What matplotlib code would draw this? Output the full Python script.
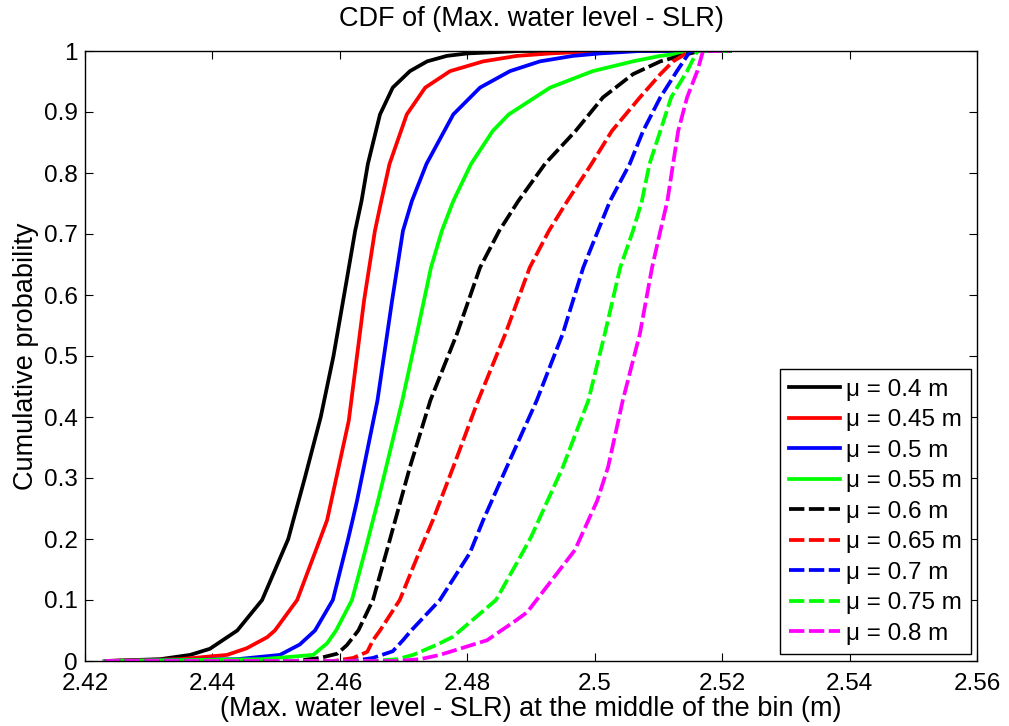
import matplotlib
matplotlib.use("Agg")
import matplotlib.pyplot as plt

plt.rcParams['font.family'] = ['Liberation Sans', 'DejaVu Sans']

# Empirical CDF samples: water level (m) and cumulative probability for each mean SLR
labels = ["\u03bc = 0.4 m", "\u03bc = 0.45 m", "\u03bc = 0.5 m", "\u03bc = 0.55 m",
          "\u03bc = 0.6 m", "\u03bc = 0.65 m", "\u03bc = 0.7 m", "\u03bc = 0.75 m",
          "\u03bc = 0.8 m"]
colors = ["black", "red", "blue", "#00ff00", "black", "red", "blue", "#00ff00", "magenta"]
dashed = [False, False, False, False, True, True, True, True, True]

x_04 = [2.4231, 2.4318, 2.4365, 2.4396, 2.4439, 2.4478, 2.4519, 2.4527, 2.4545, 2.4570,
        2.4590, 2.4610, 2.4624, 2.4634, 2.4644, 2.4663, 2.4683, 2.4710, 2.4737, 2.4768,
        2.4800, 2.4883, 2.5212]
p_04 = [0, 0.003, 0.01, 0.02, 0.05, 0.1, 0.2, 0.231, 0.3, 0.4,
        0.5, 0.62, 0.705, 0.754, 0.815, 0.896, 0.94, 0.967, 0.983, 0.992,
        0.996, 1, 1]

x_045 = [2.4231, 2.4349, 2.4423, 2.4454, 2.4486, 2.4498, 2.4533, 2.4569, 2.4580, 2.4614,
         2.4638, 2.4655, 2.4665, 2.4678, 2.4705, 2.4734, 2.4773, 2.4825, 2.4878, 2.4930,
         2.5008, 2.5212]
p_045 = [0, 0.003, 0.01, 0.021, 0.039, 0.05, 0.1, 0.2, 0.231, 0.394,
         0.591, 0.705, 0.754, 0.815, 0.896, 0.94, 0.967, 0.983, 0.992, 0.996,
         1, 1]

x_05 = [2.4231, 2.4439, 2.4506, 2.4537, 2.4561, 2.4589, 2.4613, 2.4620, 2.4627, 2.4659,
        2.4682, 2.4699, 2.4713, 2.4736, 2.4778, 2.4820, 2.4867, 2.4914, 2.4966, 2.5008,
        2.5071, 2.5212]
p_05 = [0, 0.003, 0.01, 0.027, 0.05, 0.1, 0.2, 0.231, 0.263, 0.427,
        0.591, 0.705, 0.754, 0.815, 0.896, 0.94, 0.967, 0.983, 0.992, 0.996,
        1, 1]

x_055 = [2.4231, 2.4479, 2.4558, 2.4580, 2.4594, 2.4619, 2.4640, 2.4652, 2.4660, 2.4698,
         2.4721, 2.4743, 2.4760, 2.4778, 2.4806, 2.4840, 2.4865, 2.4930, 2.4997, 2.5060,
         2.5103, 2.5165, 2.5212]
p_055 = [0, 0.003, 0.01, 0.029, 0.05, 0.1, 0.182, 0.231, 0.263, 0.427,
         0.537, 0.645, 0.705, 0.754, 0.815, 0.869, 0.896, 0.94, 0.967, 0.983,
         0.992, 1, 1]

x_06 = [2.4231, 2.4530, 2.4569, 2.4596, 2.4611, 2.4629, 2.4652, 2.4674, 2.4687, 2.4710,
        2.4742, 2.4784, 2.4820, 2.4850, 2.4880, 2.4922, 2.4970, 2.5013, 2.5060, 2.5103,
        2.5134, 2.5165, 2.5212]
p_06 = [0, 0, 0.005, 0.012, 0.026, 0.05, 0.1, 0.182, 0.231, 0.318,
        0.427, 0.537, 0.645, 0.705, 0.754, 0.815, 0.869, 0.924, 0.962, 0.983,
        0.992, 1, 1]

x_065 = [2.4231, 2.4590, 2.4621, 2.4643, 2.4652, 2.4663, 2.4694, 2.4726, 2.4746, 2.4778,
         2.4817, 2.4860, 2.4898, 2.4928, 2.4957, 2.4995, 2.5027, 2.5071, 2.5103, 2.5123,
         2.5150, 2.5212]
p_065 = [0, 0, 0.005, 0.015, 0.034, 0.05, 0.1, 0.182, 0.231, 0.318,
         0.427, 0.537, 0.645, 0.705, 0.754, 0.815, 0.869, 0.924, 0.962, 0.983,
         1, 1]

x_07 = [2.4231, 2.4620, 2.4652, 2.4683, 2.4699, 2.4712, 2.4757, 2.4804, 2.4825, 2.4862,
        2.4909, 2.4950, 2.4982, 2.5005, 2.5024, 2.5055, 2.5076, 2.5103, 2.5129, 2.5150,
        2.5212]
p_07 = [0, 0, 0.005, 0.016, 0.034, 0.05, 0.1, 0.177, 0.231, 0.318,
        0.427, 0.537, 0.645, 0.705, 0.754, 0.815, 0.869, 0.924, 0.967, 1,
        1]

x_075 = [2.4231, 2.4650, 2.4690, 2.4715, 2.4753, 2.4778, 2.4789, 2.4845, 2.4880, 2.4900,
         2.4950, 2.4990, 2.5016, 2.5040, 2.5060, 2.5074, 2.5086, 2.5103, 2.5120, 2.5145,
         2.5161, 2.5212]
p_075 = [0, 0, 0.003, 0.01, 0.027, 0.04, 0.05, 0.1, 0.165, 0.203,
         0.318, 0.427, 0.537, 0.645, 0.705, 0.754, 0.815, 0.869, 0.924, 0.967,
         1, 1]

x_08 = [2.4231, 2.4690, 2.4726, 2.4757, 2.4831, 2.4877, 2.4894, 2.4969, 2.5004, 2.5021,
        2.5044, 2.5071, 2.5090, 2.5103, 2.5114, 2.5123, 2.5131, 2.5145, 2.5161, 2.5170,
        2.5212]
p_08 = [0, 0, 0.003, 0.01, 0.034, 0.067, 0.08, 0.182, 0.263, 0.318,
        0.427, 0.537, 0.645, 0.705, 0.754, 0.815, 0.869, 0.924, 0.967, 1,
        1]

xs = [x_04, x_045, x_05, x_055, x_06, x_065, x_07, x_075, x_08]
ps = [p_04, p_045, p_05, p_055, p_06, p_065, p_07, p_075, p_08]

x_ticks = [2.42, 2.44, 2.46, 2.48, 2.50, 2.52, 2.54, 2.56]
x_tick_labels = ["2.42", "2.44", "2.46", "2.48", "2.5", "2.52", "2.54", "2.56"]
y_ticks = [0, 0.1, 0.2, 0.3, 0.4, 0.5, 0.6, 0.7, 0.8, 0.9, 1.0]
y_tick_labels = ["0", "0.1", "0.2", "0.3", "0.4", "0.5", "0.6", "0.7", "0.8", "0.9", "1"]

W, H = 1009, 726
fig = plt.figure(figsize=(W / 100, H / 100), dpi=100)
ax = fig.add_axes([85 / W, 1 - 661 / H, (977 - 85) / W, (661 - 51) / H])

lw = 2.7
for x, p, c, d, lab in zip(xs, ps, colors, dashed, labels):
    ls = (0, (4.1, 1.2)) if d else "-"
    ax.plot(x, p, color=c, linewidth=lw, linestyle=ls, label=lab)

ax.set_xlim(2.42, 2.56)
ax.set_ylim(0, 1)
ax.set_xticks(x_ticks)
ax.set_xticklabels(x_tick_labels)
ax.set_yticks(y_ticks)
ax.set_yticklabels(y_tick_labels)
ax.tick_params(direction="in", length=5.5, width=0.8, top=True, right=True,
               labelsize=17.5)
ax.tick_params(axis="x", pad=8.5)
ax.tick_params(axis="y", pad=5)
for s in ax.spines.values():
    s.set_linewidth(1.0)

ax.set_title("CDF of (Max. water level - SLR)", fontsize=19.5, pad=18)
ax.set_xlabel("(Max. water level - SLR) at the middle of the bin (m)", fontsize=19.5, labelpad=1)
ax.set_ylabel("Cumulative probability", fontsize=19.5, labelpad=4)

leg = ax.legend(loc="lower right", bbox_to_anchor=((971 - 85) / 892, (661 - 654) / 610),
                borderaxespad=0, fontsize=17.5, frameon=True, fancybox=False,
                edgecolor="black", framealpha=1, handlelength=2.1, handletextpad=0.25,
                labelspacing=0.35, borderpad=0.38)
leg.get_frame().set_linewidth(1.0)

fig.savefig("out.png", dpi=100)
